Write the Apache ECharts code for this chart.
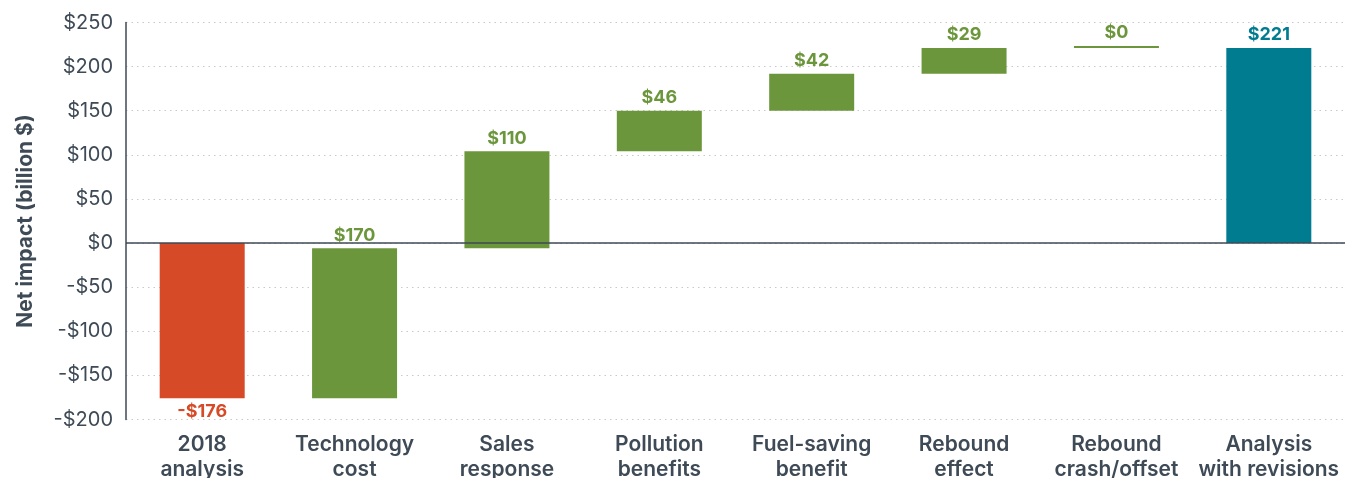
<!DOCTYPE html>
<html>
<head>
<meta charset="utf-8">
<script src="https://cdn.jsdelivr.net/npm/echarts@6/dist/echarts.min.js"></script>
<style>
  html, body { margin: 0; padding: 0; background: #fff; }
  #main { width: 1357px; height: 478px; }
</style>
</head>
<body>
<div id="main"></div>
<script>
/* 数据 */
var categories = ['2018\nanalysis', 'Technology\ncost', 'Sales\nresponse', 'Pollution\nbenefits',
  'Fuel-saving\nbenefit', 'Rebound\neffect', 'Rebound\ncrash/offset', 'Analysis\nwith revisions'];
var changes = [-176, 170, 110, 46, 42, 29, 0, 221];
var kinds = ['start', 'step', 'step', 'step', 'step', 'step', 'step', 'total'];
var yTicks = [-200, -150, -100, -50, 0, 50, 100, 150, 200, 250];

var TEXT = '#3e4a56';
var RED = '#d64a27';
var GREEN = '#6c963c';
var TEAL = '#007c91';

function money(v) {
  return (v < 0 ? '-' : '') + '$' + Math.abs(v);
}

/* 瀑布图：透明底座 + 可见部分 */
var bases = [];
var running = 0;
changes.forEach(function (c, i) {
  if (kinds[i] === 'step') {
    bases.push(running);
    running += c;
  } else {
    bases.push(0);
    running = c;
  }
});

var visible = changes.map(function (c, i) {
  var color = kinds[i] === 'start' ? RED : (kinds[i] === 'total' ? TEAL : GREEN);
  return {
    value: c,
    itemStyle: { color: color },
    label: { color: color, position: c < 0 ? 'bottom' : 'top' }
  };
});

var myChart = echarts.init(document.getElementById('main'));
var option = {
  animation: false,
  backgroundColor: '#fff',
  textStyle: { fontFamily: 'Inter, "DejaVu Sans", sans-serif' },
  grid: { left: 126, right: 12, top: 22.5, bottom: 58.5, outerBoundsMode: 'none', containLabel: false },
  xAxis: {
    type: 'category',
    data: categories,
    axisLine: { show: false, onZero: false },
    axisTick: { show: false },
    axisLabel: {
      color: TEXT, fontSize: 21, fontWeight: 600, lineHeight: 25, margin: 13, interval: 0
    }
  },
  yAxis: {
    type: 'value',
    min: yTicks[0],
    max: yTicks[yTicks.length - 1],
    interval: 50,
    name: 'Net impact (billion $)',
    nameLocation: 'middle',
    nameGap: 90,
    nameTextStyle: { color: TEXT, fontSize: 21, fontWeight: 700 },
    axisLine: { show: true, lineStyle: { color: TEXT, width: 1.5 } },
    axisTick: { show: false },
    axisLabel: { color: TEXT, fontSize: 20, margin: 13, formatter: money },
    splitLine: { lineStyle: { color: '#c9c9c9', type: [1.5, 4], width: 1.2 } }
  },
  series: [
    {
      type: 'bar',
      stack: 'w',
      stackStrategy: 'all',
      data: bases,
      itemStyle: { color: 'transparent' },
      silent: true,
      barWidth: 85,
      markLine: {
        silent: true,
        symbol: 'none',
        label: { show: false },
        lineStyle: { color: TEXT, width: 1.5, type: 'solid' },
        data: [{ yAxis: 0 }]
      }
    },
    {
      type: 'bar',
      stack: 'w',
      stackStrategy: 'all',
      data: visible,
      barWidth: 85,
      barMinHeight: 2,
      label: {
        show: true, fontSize: 18, fontWeight: 700, distance: 4,
        formatter: function (p) { return money(p.value); }
      }
    }
  ]
};
myChart.setOption(option);
</script>
</body>
</html>
